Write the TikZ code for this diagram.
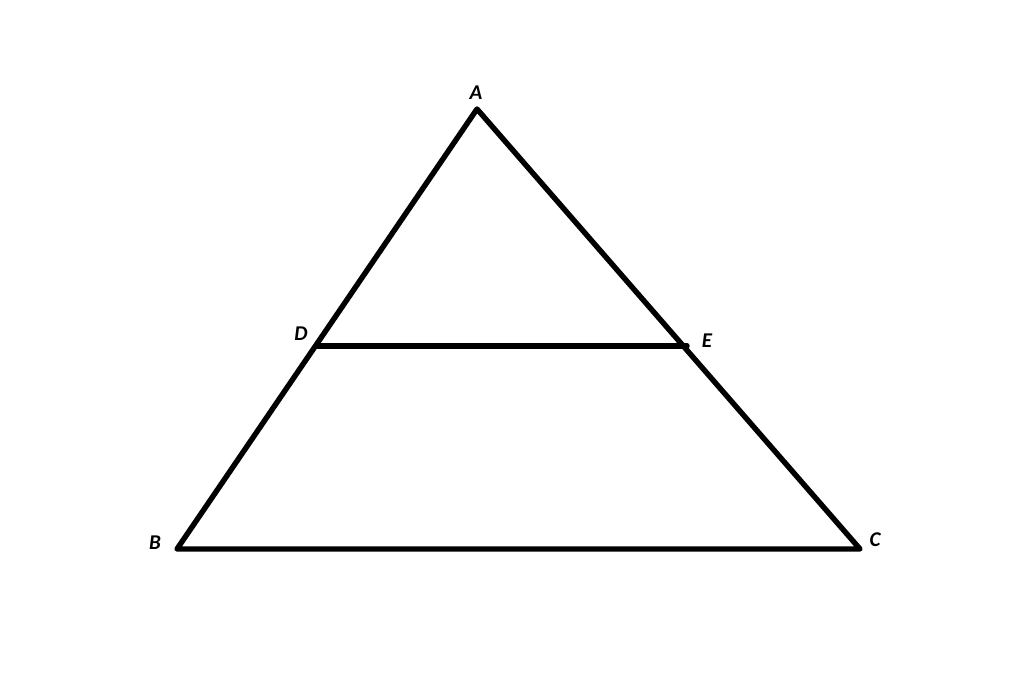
\documentclass[tikz,border=0pt]{standalone}
\usepackage{fontspec}
\setmainfont{Carlito}
\begin{document}
\begin{tikzpicture}[x=1pt,y=-1pt,
  seg/.style={line width=5.4pt,line cap=round,line join=round},
  lbl/.style={font=\fontsize{21}{21}\selectfont\bfseries\itshape,inner sep=0pt}]
\useasboundingbox[fill=white] (0,0) rectangle (1024,677);
\coordinate (A) at (477,109);
\coordinate (B) at (177,549);
\coordinate (C) at (860,549);
\coordinate (D) at (317,346);
\coordinate (E) at (687,346);
\draw[seg] (A) -- (B) -- (C) -- cycle;
\draw[seg] (D) -- (E);
\node[lbl] (lA) at (476,93) {A};
\node[lbl] (lB) at (155,543) {B};
\node[lbl] (lC) at (875,540) {C};
\node[lbl] (lD) at (301,334) {D};
\node[lbl] (lE) at (707,341) {E};
\end{tikzpicture}
\end{document}
